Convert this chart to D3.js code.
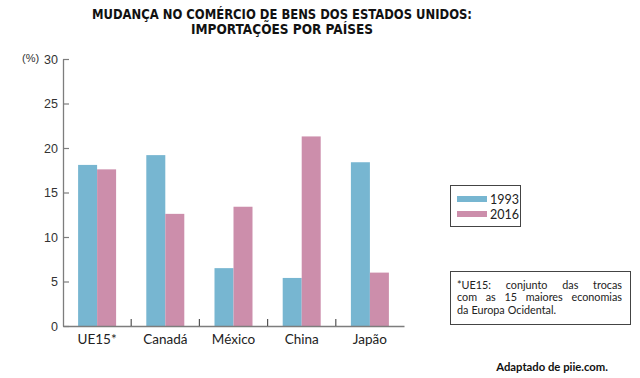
<!DOCTYPE html>
<html>
<head>
<meta charset="utf-8">
<script src="https://cdn.jsdelivr.net/npm/d3@7"></script>
<style>
  body { margin: 0; background: #fff; }
  svg { display: block; }
</style>
</head>
<body>
<div class="chart"></div>
<script>
// chart data
var categories = ["UE15*", "Canadá", "México", "China", "Japão"];
var years = ["1993", "2016"];
var v1993 = [18.1, 19.2, 6.5, 5.4, 18.4];
var v2016 = [17.6, 12.6, 13.4, 21.3, 6.0];
var yTicks = [0, 5, 10, 15, 20, 25, 30];
var titleLines = ["MUDANÇA NO COMÉRCIO DE BENS DOS ESTADOS UNIDOS:", "IMPORTAÇÕES POR PAÍSES"];
var noteLines = ["*UE15: conjunto das trocas", "com as 15 maiores economias", "da Europa Ocidental."];
var sourceText = "Adaptado de piie.com.";

var colors = { "1993": "#77b6d1", "2016": "#cc8eab" };
var sansFont = "Lato, 'Noto Sans', sans-serif";

var svg = d3.select(".chart").append("svg")
    .attr("width", 640)
    .attr("height", 378);

// scales
var xScale = d3.scaleBand()
    .domain(categories)
    .range([63, 404])
    .padding(0);

var xSub = d3.scaleBand()
    .domain(years)
    .range([0, 38]);

var yScale = d3.scaleLinear()
    .domain([0, 30])
    .range([326, 59]);

// title (one text, two lines)
var titleWidths = [380, 182];
var title = svg.append("text")
    .attr("text-anchor", "middle")
    .attr("font-family", "'Liberation Sans Narrow', 'DejaVu Sans Condensed', 'Liberation Sans', sans-serif")
    .attr("font-weight", "bold")
    .attr("font-size", 14.5)
    .attr("fill", "#111");
titleLines.forEach(function(t, i) {
    title.append("tspan")
        .attr("x", 282)
        .attr("y", 19 + i * 14.5)
        .attr("textLength", titleWidths[i])
        .attr("lengthAdjust", "spacingAndGlyphs")
        .text(t);
});

// bars
var rows = categories.map(function(c, i) {
    return { cat: c, values: [{ year: "1993", v: v1993[i] }, { year: "2016", v: v2016[i] }] };
});

var groups = svg.selectAll(".grp")
    .data(rows)
    .enter()
    .append("g")
    .attr("class", "grp")
    .attr("transform", d => `translate(${xScale(d.cat) + (xScale.bandwidth() - 38) / 2}, 0)`);

groups.selectAll("rect")
    .data(d => d.values)
    .enter()
    .append("rect")
    .attr("x", d => xSub(d.year))
    .attr("width", xSub.bandwidth())
    .attr("y", d => yScale(d.v))
    .attr("height", d => yScale(0) - yScale(d.v))
    .attr("fill", d => colors[d.year]);

// y axis
var yAxis = d3.axisLeft(yScale)
    .tickValues(yTicks)
    .tickSizeInner(-6)
    .tickSizeOuter(0)
    .tickPadding(5);

var yG = svg.append("g")
    .attr("transform", `translate(${xScale.range()[0]}, 0)`)
    .call(yAxis);
yG.select(".domain").attr("stroke", "#7d7d7d").attr("stroke-width", 1.3);
yG.selectAll(".tick line").attr("stroke", "#7d7d7d").attr("stroke-width", 1.2);
yG.selectAll(".tick text")
    .attr("font-family", "'Liberation Sans', Arial, sans-serif")
    .attr("font-size", 12.5)
    .attr("fill", "#333");

svg.append("text")
    .attr("x", 22)
    .attr("y", 62)
    .attr("font-family", "'Liberation Sans', Arial, sans-serif")
    .attr("font-size", 11)
    .attr("fill", "#333")
    .text("(%)");

// x axis
var xAxis = d3.axisBottom(xScale)
    .tickSize(0)
    .tickPadding(8);

var xG = svg.append("g")
    .attr("transform", `translate(0, ${yScale(0)})`)
    .call(xAxis);
xG.select(".domain").attr("stroke", "#7d7d7d").attr("stroke-width", 1.3);
xG.selectAll(".tick text")
    .attr("font-family", sansFont)
    .attr("font-size", 13.5)
    .attr("fill", "#222");

// category separators
xG.selectAll(".sep")
    .data(categories.slice(1))
    .enter()
    .append("line")
    .attr("class", "sep")
    .attr("x1", d => xScale(d))
    .attr("x2", d => xScale(d))
    .attr("y1", 0)
    .attr("y2", -7)
    .attr("stroke", "#555")
    .attr("stroke-width", 1.2);

// legend
var legend = svg.append("g");
legend.append("rect")
    .attr("x", 450.5).attr("y", 185.5)
    .attr("width", 70).attr("height", 41)
    .attr("fill", "none")
    .attr("stroke", "#444")
    .attr("stroke-width", 1);

years.forEach(function(y, i) {
    legend.append("rect")
        .attr("x", 457)
        .attr("y", 196 + i * 15)
        .attr("width", 30)
        .attr("height", 6)
        .attr("fill", colors[y]);
    legend.append("text")
        .attr("x", 490)
        .attr("y", 203.5 + i * 15)
        .attr("font-family", sansFont)
        .attr("font-size", 12.5)
        .attr("fill", "#222")
        .text(y);
});

// note box
svg.append("rect")
    .attr("x", 450.5).attr("y", 271.5)
    .attr("width", 180).attr("height", 53)
    .attr("fill", "none")
    .attr("stroke", "#444")
    .attr("stroke-width", 1);

// note text: words placed one by one so the first lines are justified
var noteLeft = 457, noteRight = 622;
var note = svg.append("g")
    .attr("font-family", sansFont)
    .attr("font-size", 10.8)
    .attr("fill", "#222");

noteLines.forEach(function(line, i) {
    var y = 288.5 + i * 12.6;
    var words = line.split(" ");
    var spans = words.map(function(w) {
        return note.append("text").attr("y", y).text(w);
    });
    var widths = spans.map(s => s.node().getComputedTextLength());
    var last = i === noteLines.length - 1;
    var gap = last ? 3 : (noteRight - noteLeft - d3.sum(widths)) / (words.length - 1);
    var x = noteLeft;
    spans.forEach(function(s, k) {
        s.attr("x", x);
        x += widths[k] + gap;
    });
});

// source
svg.append("text")
    .attr("x", 608)
    .attr("y", 371)
    .attr("text-anchor", "end")
    .attr("font-family", sansFont)
    .attr("font-weight", "bold")
    .attr("font-size", 11.3)
    .attr("fill", "#111")
    .text(sourceText);
</script>
</body>
</html>
